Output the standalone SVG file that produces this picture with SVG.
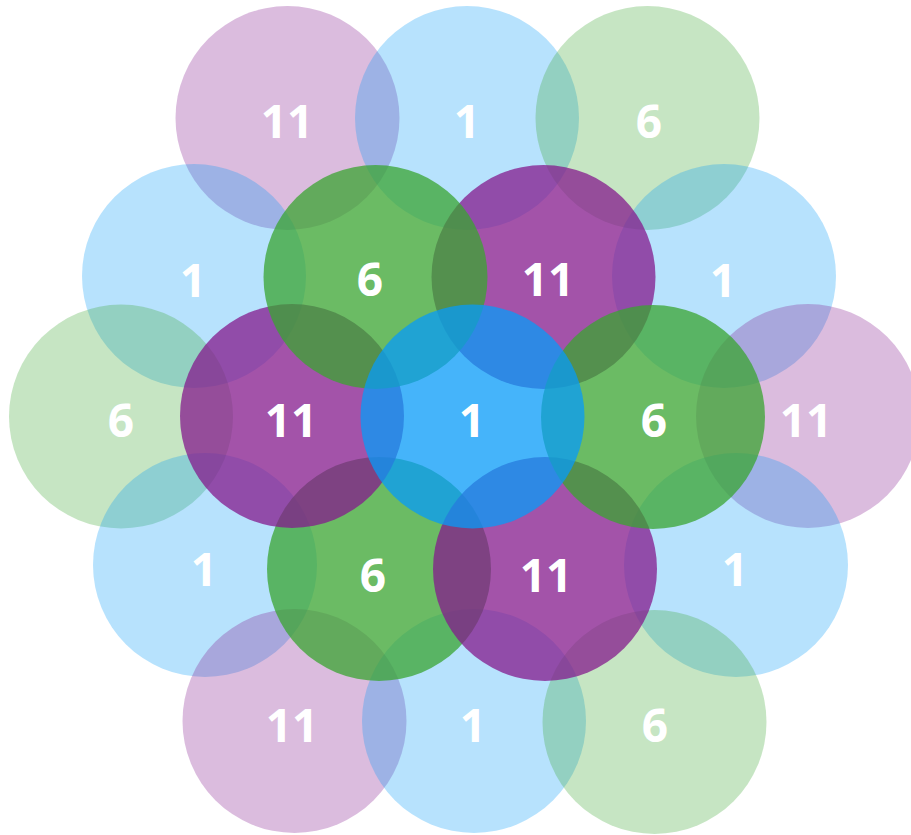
<svg xmlns="http://www.w3.org/2000/svg" width="911" height="835" viewBox="0 0 911 835">
<style>
  .b { fill: #079bf8; }
  .p { fill: #84198c; }
  .g { fill: #39a430; }
  .lt { fill-opacity: 0.29; }
  .dk { fill-opacity: 0.75; }
  text { font-family: "Open Sans", "DejaVu Sans", sans-serif; font-weight: bold; font-size: 46px; fill: #ffffff; text-anchor: middle; }
</style>
<rect width="911" height="835" fill="#ffffff"/>
<g id="outer">
  <g id="o1"><circle class="p lt" cx="287.5" cy="118" r="112"/><text x="287" y="138">11</text></g>
  <g id="o2"><circle class="b lt" cx="467" cy="118" r="112"/><text x="467" y="138">1</text></g>
  <g id="o3"><circle class="g lt" cx="647.5" cy="118" r="112"/><text x="649" y="138">6</text></g>
  <g id="o4"><circle class="b lt" cx="194" cy="276" r="112"/><text x="193" y="297">1</text></g>
  <g id="o5"><circle class="b lt" cx="724" cy="276" r="112"/><text x="723" y="297">1</text></g>
  <g id="o6"><circle class="g lt" cx="121" cy="416.5" r="112"/><text x="121" y="437">6</text></g>
  <g id="o7"><circle class="p lt" cx="808" cy="416" r="112"/><text x="806" y="437">11</text></g>
  <g id="o8"><circle class="b lt" cx="205" cy="565" r="112"/><text x="204" y="586">1</text></g>
  <g id="o9"><circle class="b lt" cx="736" cy="565" r="112"/><text x="735" y="586">1</text></g>
  <g id="o10"><circle class="p lt" cx="294.5" cy="721" r="112"/><text x="292" y="742">11</text></g>
  <g id="o11"><circle class="b lt" cx="474" cy="721" r="112"/><text x="473" y="742">1</text></g>
  <g id="o12"><circle class="g lt" cx="654.5" cy="722" r="112"/><text x="655" y="742">6</text></g>
</g>
<g id="inner">
  <g id="i-gbl"><circle class="g dk" cx="379" cy="569" r="112"/><text x="373" y="592">6</text></g>
  <g id="i-pl"><circle class="p dk" cx="292" cy="416" r="112"/><text x="291" y="437">11</text></g>
  <g id="i-ptr"><circle class="p dk" cx="543.5" cy="277" r="112"/><text x="548" y="296">11</text></g>
  <g id="i-gtl"><circle class="g dk" cx="375.5" cy="277" r="112"/><text x="370" y="296">6</text></g>
  <g id="i-pbr"><circle class="p dk" cx="545" cy="569" r="112"/><text x="546" y="592">11</text></g>
  <g id="i-gr"><circle class="g dk" cx="653" cy="417" r="112"/><text x="654" y="437">6</text></g>
</g>
<g id="center"><circle class="b dk" cx="472.5" cy="416.5" r="112"/><text x="472" y="437">1</text></g>
<g id="connectors"></g>
</svg>
